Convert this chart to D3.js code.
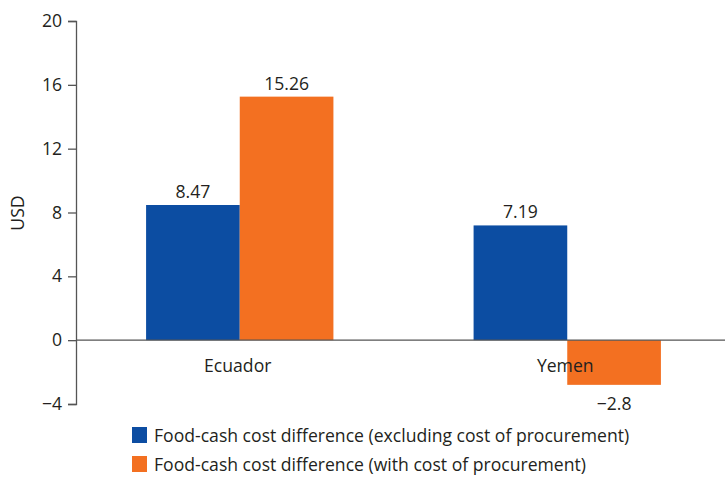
<!DOCTYPE html>
<html>
<head>
<meta charset="utf-8">
<script src="https://cdn.jsdelivr.net/npm/d3@7"></script>
<style>
  body { margin: 0; background: #fff; }
  text { font-family: "Open Sans", sans-serif; fill: #231f20; }
</style>
</head>
<body>
<div id="chart"></div>
<script>
// data
const countries = ["Ecuador", "Yemen"];
const seriesNames = [
  "Food-cash cost difference (excluding cost of procurement)",
  "Food-cash cost difference (with cost of procurement)"
];
const excludingProcurement = [8.47, 7.19];
const withProcurement = [15.26, -2.8];
const yTicks = [-4, 0, 4, 8, 12, 16, 20];

const colors = ["#0c4da2", "#f37021"];
const fmt = v => (v < 0 ? "\u2212" + Math.abs(v) : String(v));
const fs = "17.6px";

const W = 725, H = 483;
const svg = d3.select("#chart").append("svg")
  .attr("width", W)
  .attr("height", H);

let y = d3.scaleLinear().domain([-4, 20]).range([404, 21]);

let x0 = d3.scaleBand()
  .domain(countries)
  .range([76, 731])
  .paddingInner(0.428)
  .paddingOuter(0.214);

let x1 = d3.scaleBand()
  .domain([0, 1])
  .range([0, x0.bandwidth()]);

let series = [excludingProcurement, withProcurement];

// y axis
let yAxis = d3.axisLeft(y)
  .tickValues(yTicks)
  .tickSize(8)
  .tickPadding(6)
  .tickFormat(fmt);

let gy = svg.append("g")
  .attr("transform", "translate(76,0)")
  .call(yAxis);
gy.select(".domain").attr("stroke", "#555").attr("stroke-width", 1.3);
gy.selectAll(".tick line").attr("stroke", "#555").attr("stroke-width", 1.3);
gy.selectAll(".tick text")
  .attr("fill", "#231f20")
  .style("font-family", "'Open Sans', sans-serif")
  .style("font-size", fs);

// USD label
svg.append("text")
  .attr("transform", "translate(24,213) rotate(-90)")
  .attr("text-anchor", "middle")
  .style("font-size", fs)
  .text("USD");

// bars
countries.forEach((c, i) => {
  series.forEach((s, j) => {
    let v = s[i];
    let bx = x0(c) + x1(j);
    svg.append("rect")
      .attr("x", bx)
      .attr("y", y(Math.max(0, v)))
      .attr("width", x1.bandwidth())
      .attr("height", Math.abs(y(v) - y(0)))
      .attr("fill", colors[j]);
    svg.append("text")
      .attr("x", bx + x1.bandwidth() / 2)
      .attr("y", v >= 0 ? y(v) - 7 : y(v) + 25)
      .attr("text-anchor", "middle")
      .style("font-size", fs)
      .text(fmt(v));
  });
});

// zero line
svg.append("line")
  .attr("x1", 76).attr("x2", W)
  .attr("y1", y(0)).attr("y2", y(0))
  .attr("stroke", "#555")
  .attr("stroke-width", 1.3);

// category labels
countries.forEach(c => {
  svg.append("text")
    .attr("x", x0(c) + x0.bandwidth() / 2 - 2)
    .attr("y", 372)
    .attr("text-anchor", "middle")
    .style("font-size", fs)
    .text(c);
});

// legend
seriesNames.forEach((n, j) => {
  let ly = 427 + j * 29;
  svg.append("rect")
    .attr("x", 132).attr("y", ly)
    .attr("width", 15).attr("height", 16)
    .attr("fill", colors[j]);
  svg.append("text")
    .attr("x", 154).attr("y", ly + 15)
    .style("font-size", fs)
    .text(n);
});
</script>
</body>
</html>
